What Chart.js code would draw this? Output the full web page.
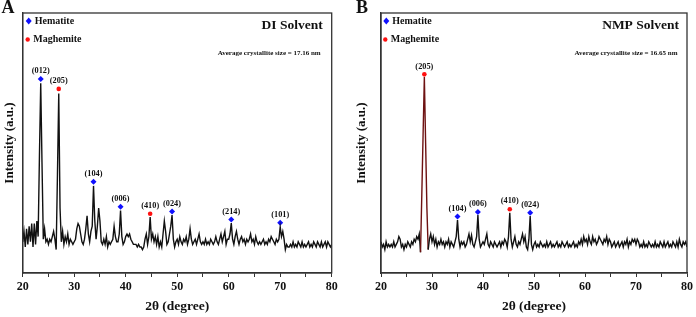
<!DOCTYPE html>
<html><head><meta charset="utf-8">
<script src="https://cdn.jsdelivr.net/npm/chart.js@4/dist/chart.umd.min.js"></script>
<style>
body{margin:0;background:#fff;width:696px;height:317px;position:relative;overflow:hidden}
.p{position:absolute;top:0;width:348px;height:317px}
canvas{display:block}
</style></head><body>
<div class="p" style="left:0"><canvas id="cA" width="348" height="317"></canvas></div>
<div class="p" style="left:348px"><canvas id="cB" width="348" height="317"></canvas></div>
<script>
// ---- data ----
const thetaStart = 20, thetaStep = 0.25; // 2θ sampling grid, 20–80°
const xTicks = [20, 30, 40, 50, 60, 70, 80];

const intensityA = [
 12,16,10,17, 11,18,12,19, 10,19,11,20, 14,45,73,42, 13,17,12,13,
 11,13,12,14, 16,13,9,38, 69,25,12,16, 11,14,12,15, 11,13,12,11,
 12,13,17,19, 18,15,12,11, 13,17,22,15, 12,16,18,33.5, 20,13,18,25,
 20,12,11,13, 11,14,10,12, 11,12,13,18, 14,12,12,15, 24,14,11,12,
 14,15,14,15, 13,12,11,11, 11,10,11,10, 10,9,10,13, 15,11,14,21.5,
 13,15,12,14, 11,14,10,12, 10,15,20,16, 11,12,15,18, 22.3,13,10,12,
 13,11,14,12, 11,13,12,14, 11,13,17,13, 11,12,13,11, 13,15,12,11,
 12,11,13,11, 12,11,13,12, 11,12,14,12, 11,13,15,12, 14,16,11,13,
 13,15,19.2,13, 11,14,16,13, 11,13,14,12, 13,11,13,12, 13,15,12,13,
 11,14,12,11, 12,11,12,13, 11,12,11,13, 12,14,13,12, 11,13,12,13,
 17.7,14,16,13, 9,11,10,10, 11,10,12,10, 11,10,12,11, 10,12,10,11,
 10,11,12,10, 11,10,12,11, 10,12,11,10, 12,10,11,12, 10,12,11,10,
 11
];
const intensityB = [
 12,10,11,9, 12,10,11,10, 11,10,12,10, 11,12,14,13, 10,11,9,11,
 10,12,11,10, 12,11,13,12, 14,13,15,8, 30,53,75.4,50, 25,9,13,15,
 12,14,11,13, 10,12,11,13, 11,12,10,12, 11,13,10,12, 11,10,12,14,
 20.4,13,10,12, 11,12,10,11, 13,15,12,14.5, 11,10,12,14, 22.3,13,10,11,
 12,11,13,15, 11,10,12,11, 10,12,11,10, 11,12,10,12, 11,13,12,10,
 14,23.2,13,10, 12,14,11,10, 12,11,13,15, 12,14,10,9, 13,21.9,11,9,
 11,12,10,11, 10,12,11,10, 11,10,12,10, 11,12,10,11, 10,11,12,10,
 11,10,12,11, 10,11,12,10, 11,10,11,12, 10,11,10,12, 11,13,11,14,
 12,13,11,14, 12,11,14,12, 13,11,12,14, 13,12,11,13, 12,14,11,13,
 12,10,11,12, 10,11,12,10, 11,12,10,12, 11,13,10,12, 11,13,12,13,
 11,13,12,10, 11,10,12,10, 11,10,12,11, 10,11,10,12, 10,11,10,12,
 11,10,12,10, 11,12,10,11, 10,12,11,10, 12,10,13,11, 10,12,11,12,
 10
];

const hemA_x = [23.5, 33.75, 39.0, 49.0, 60.5, 70.0];
const hemA_y = [74.6, 35.1, 25.5, 23.7, 20.6, 19.3];
const hemA_labels = ['(012)','(104)','(006)','(024)','(214)','(101)'];
const magA_x = [27.0, 44.75];
const magA_y = [70.8, 22.8];
const magA_labels = ['(205)','(410)'];

const hemB_x = [35.0, 39.0, 49.25];
const hemB_y = [21.7, 23.5, 23.2];
const hemB_labels = ['(104)','(006)','(024)'];
const magB_x = [28.5, 45.25];
const magB_y = [76.4, 24.5];
const magB_labels = ['(205)','(410)'];

const titles = ['DI Solvent', 'NMP Solvent'];
const sizeNotes = ['Average crystallite size = 17.16 nm', 'Average crystallite size = 16.65 nm'];
const panelLetters = ['A', 'B'];
const legendNames = ['Hematite', 'Maghemite'];

// ---- drawing ----
const SERIF = '"Liberation Serif","Times New Roman",serif';
const BLUE = '#1010ff', RED = '#ff1010';

function grid(n){ const a=[]; for(let i=0;i<n;i++) a.push(thetaStart + i*thetaStep); return a; }

function makePanel(id, p){
  const xs = grid(p.intensity.length);
  const lineData = xs.map((x,i)=>({x, y:p.intensity[i]}));
  const hemData = p.hemX.map((x,i)=>({x, y:p.hemY[i]}));
  const magData = p.magX.map((x,i)=>({x, y:p.magY[i]}));

  const deco = {
    id:'deco'+id,
    afterDraw(chart){
      const ctx = chart.ctx, a = chart.chartArea;
      const xs_ = chart.scales.x, ys_ = chart.scales.y;
      ctx.save();
      // frame
      ctx.strokeStyle = '#333'; ctx.lineWidth = 1.3;
      ctx.strokeRect(a.left, a.top, a.right - a.left, a.bottom - a.top);
      // panel letter
      ctx.fillStyle = '#111'; ctx.textBaseline = 'middle'; ctx.textAlign = 'left';
      ctx.font = 'bold 18px ' + SERIF;
      ctx.fillText(p.letter, p.letterX, 8);
      // legend
      ctx.font = 'bold 10px ' + SERIF;
      const lx = a.left + p.legDX;
      ctx.fillStyle = BLUE;
      ctx.beginPath(); ctx.moveTo(lx, 17.5); ctx.lineTo(lx+3, 21); ctx.lineTo(lx, 24.5); ctx.lineTo(lx-3, 21); ctx.closePath(); ctx.fill();
      ctx.fillStyle = '#111'; ctx.fillText(legendNames[0], lx + 6, 21);
      ctx.fillStyle = RED;
      ctx.beginPath(); ctx.arc(lx-1, 39.5, 2.2, 0, Math.PI*2); ctx.fill();
      ctx.fillStyle = '#111'; ctx.fillText(legendNames[1], lx + 4.5, 39.5);
      // titles
      ctx.textAlign = 'right';
      ctx.font = 'bold 13.5px ' + SERIF;
      ctx.fillText(p.title, a.right - p.titleDR, 26);
      ctx.font = 'bold 7px ' + SERIF;
      ctx.fillText(p.note, a.right - p.noteDR, 53);
      // peak labels
      ctx.textAlign = 'center';
      ctx.font = 'bold 8.3px ' + SERIF;
      const lab = (xArr, yArr, lArr) => xArr.forEach((x,i)=>{
        ctx.fillText(lArr[i], xs_.getPixelForValue(x), ys_.getPixelForValue(yArr[i]) - 8);
      });
      lab(p.hemX, p.hemY, p.hemL);
      lab(p.magX, p.magY, p.magL);
      ctx.restore();
    }
  };

  new Chart(document.getElementById(id), {
    type:'line',
    data:{datasets:[
      {data:lineData, borderColor:'#111', borderWidth:1.4, pointRadius:0, tension:0, fill:false,
       segment:{borderColor: c => (p.redPeak && c.p0.parsed.x >= p.redPeak[0] && c.p1.parsed.x <= p.redPeak[1]) ? '#6e1212' : undefined}},
      {data:hemData, showLine:false, pointStyle:'rectRot', pointRadius:3, backgroundColor:BLUE, borderColor:BLUE, borderWidth:0},
      {data:magData, showLine:false, pointStyle:'circle', pointRadius:2.3, backgroundColor:RED, borderColor:RED, borderWidth:0}
    ]},
    options:{
      responsive:false, animation:false, devicePixelRatio:1,
      layout:{padding:{top:13, right:p.padR, bottom:2, left:0}},
      plugins:{legend:{display:false}, tooltip:{enabled:false}},
      scales:{
        x:{type:'linear', min:20, max:80,
          afterFit(s){ s.height = 42; },
          ticks:{stepSize:5, autoSkip:false, maxRotation:0, padding:3, color:'#111',
                 font:{family:SERIF, weight:'bold', size:12},
                 callback:v => xTicks.includes(v) ? String(v) : ''},
          grid:{display:true, drawOnChartArea:false, drawTicks:true, tickLength:4, color:'#333', lineWidth:1},
          border:{display:true, color:'#333', width:1.3},
          title:{display:true, text:'2θ (degree)', color:'#111', font:{family:SERIF, weight:'bold', size:13.5}, padding:{top:0, bottom:0}}
        },
        y:{min:0, max:100,
          afterFit(s){ s.width = p.yW; },
          ticks:{display:false}, grid:{display:false},
          border:{display:true, color:'#333', width:1.3},
          title:{display:true, text:'Intensity (a.u.)', color:'#111', font:{family:SERIF, weight:'bold', size:13}, padding:{top:p.yTP, bottom:0}}
        }
      }
    },
    plugins:[deco]
  });
}

makePanel('cA', {intensity:intensityA, hemX:hemA_x, hemY:hemA_y, hemL:hemA_labels, magX:magA_x, magY:magA_y, magL:magA_labels,
  title:titles[0], note:sizeNotes[0], letter:panelLetters[0], letterX:1.5, legDX:6, titleDR:9, noteDR:11,
  padR:16.3, yW:22.7, yTP:2.2, redPeak:null});
makePanel('cB', {intensity:intensityB, hemX:hemB_x, hemY:hemB_y, hemL:hemB_labels, magX:magB_x, magY:magB_y, magL:magB_labels,
  title:titles[1], note:sizeNotes[1], letter:panelLetters[1], letterX:8, legDX:5.3, titleDR:8, noteDR:9.5,
  padR:6, yW:33, yTP:5.7, redPeak:[27.75, 29.25]});
</script>
</body></html>
